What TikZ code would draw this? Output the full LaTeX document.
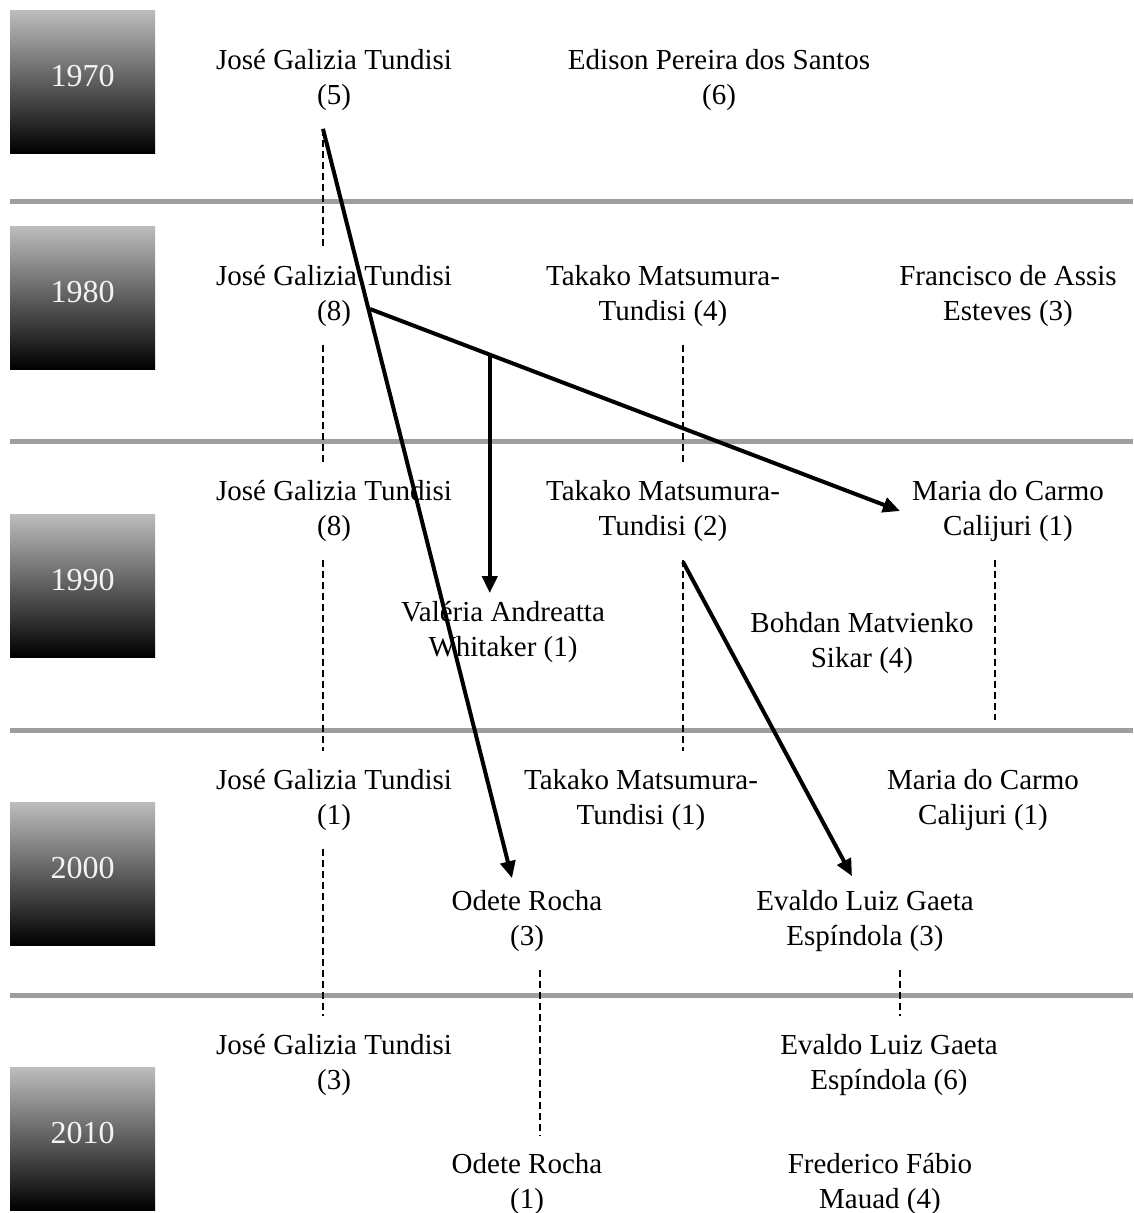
\documentclass[tikz,border=0pt]{standalone}
\usepackage{fontspec}
\setmainfont{Liberation Serif}
\usepackage{xcolor}
\usepackage{tikz}
\usetikzlibrary{arrows.meta, positioning}
\definecolor{boxtop}   {HTML}{BDBDBD}
\definecolor{yeartext} {HTML}{F4F4F4}
\definecolor{bandgray} {HTML}{9E9E9E}

\begin{document}
\begin{tikzpicture}[
    x=1pt, y=-1pt,
    who/.style={align=center, inner sep=0pt,
                font=\fontsize{29}{35}\selectfont},
    decade/.style={minimum width=145pt, minimum height=143pt, inner sep=0pt,
                   top color=boxtop, bottom color=black, text=yeartext,
                   text depth=12pt,
                   font=\fontsize{32}{35}\selectfont},
    band/.style={line width=5pt, color=bandgray},
    arr/.style={-{Triangle[length=17pt, width=15pt]}, line width=4pt},
    trail/.style={line width=2pt, dash pattern=on 7pt off 4pt,
                  shorten <=18pt, shorten >=18pt},
  ]
    \useasboundingbox (0,0) rectangle (1133,1213);

    \draw[band] (10,201) -- (1133,201);
    \draw[band] (10,441) -- (1133,441);
    \draw[band] (10,730) -- (1133,730);
    \draw[band] (10,995) -- (1133,995);

    \node[decade] (y70) at (82.5,81.5)   {1970};
    \node[decade] (y80) at (82.5,297.5)  {1980};
    \node[decade] (y90) at (82.5,585.5)  {1990};
    \node[decade] (y00) at (82.5,873.5)  {2000};
    \node[decade] (y10) at (82.5,1138.5) {2010};

    \node[who] (j70) at (334,80)  {José Galizia Tundisi\\(5)};
    \node[who] (e70) at (719,80)  {Edison Pereira dos Santos\\(6)};

    \node[who] (j80) at (334,296)  {José Galizia Tundisi\\(8)};
    \node[who] (t80) at (663,296)  {Takako Matsumura-\\Tundisi (4)};
    \node[who] (f80) at (1008,296) {Francisco de Assis\\Esteves (3)};

    \node[who] (j90) at (334,511)  {José Galizia Tundisi\\(8)};
    \node[who] (t90) at (663,511)  {Takako Matsumura-\\Tundisi (2)};
    \node[who] (m90) at (1008,511) {Maria do Carmo\\Calijuri (1)};
    \node[who] (v90) at (503,632)  {Valéria Andreatta\\Whitaker (1)};
    \node[who] (b90) at (862,643)  {Bohdan Matvienko\\Sikar (4)};

    \node[who] (j00) at (334,800) {José Galizia Tundisi\\(1)};
    \node[who] (t00) at (641,800) {Takako Matsumura-\\Tundisi (1)};
    \node[who] (m00) at (983,800) {Maria do Carmo\\Calijuri (1)};
    \node[who] (o00) at (527,921) {Odete Rocha\\(3)};
    \node[who] (e00) at (865,921) {Evaldo Luiz Gaeta\\Espíndola (3)};

    \node[who] (j10) at (334,1065) {José Galizia Tundisi\\(3)};
    \node[who] (e10) at (889,1065) {Evaldo Luiz Gaeta\\Espíndola (6)};
    \node[who] (o10) at (527,1184) {Odete Rocha\\(1)};
    \node[who] (ff10) at (880,1184) {Frederico Fábio\\Mauad (4)};

    \draw[trail] ([xshift=-11pt]j70.south) -- ([xshift=-11pt]j80.north);
    \draw[trail] ([xshift=-11pt]j80.south) -- ([xshift=-11pt]j90.north);
    \draw[trail] ([xshift=-11pt]j90.south) -- ([xshift=-11pt]j00.north);
    \draw[trail] ([xshift=-11pt]j00.south) -- ([xshift=-11pt]j10.north);
    \draw[trail] ([xshift=20pt]t80.south)  -- ([xshift=20pt]t90.north);
    \draw[trail] ([xshift=20pt]t90.south)  -- ([xshift=20pt]t90.south |- t00.north);
    \draw[trail, shorten >=49pt] ([xshift=-13pt]m90.south) -- ([xshift=-13pt]m90.south |- m00.north);
    \draw[trail] ([xshift=13pt]o00.south)  -- ([xshift=13pt]o00.south |- o10.north);
    \draw[trail] ([xshift=35pt]e00.south)  -- ([xshift=35pt]e00.south |- e10.north);

    \coordinate (jout) at ([xshift=36pt,yshift=-13pt]j80.center);
    \draw[arr] ([xshift=-11pt,yshift=-18pt]j70.south) -- ([xshift=-15pt,yshift=12pt]o00.north);
    \draw[arr] (jout) -- coordinate[pos=0.226] (fork) ([xshift=-12pt]m90.west);
    \draw[arr, shorten >=8pt] (fork) -- (fork |- v90.north);
    \draw[arr] ([xshift=20pt,yshift=-20pt]t90.south) -- ([xshift=-13pt,yshift=14pt]e00.north);
  \end{tikzpicture}
\end{document}
